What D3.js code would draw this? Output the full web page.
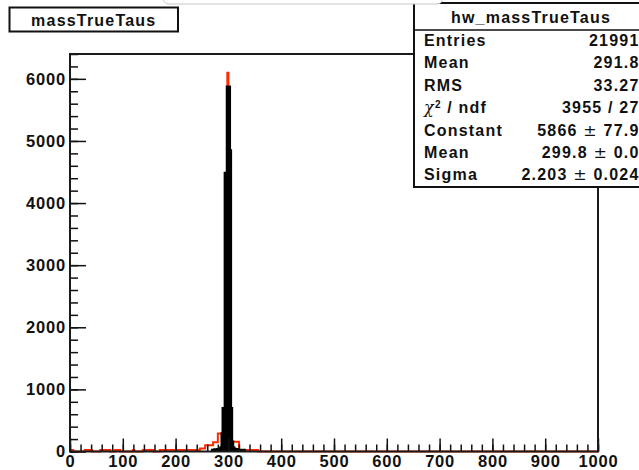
<!DOCTYPE html>
<html>
<head>
<meta charset="utf-8">
<script src="https://cdn.jsdelivr.net/npm/d3@7"></script>
<style>
  html, body { margin: 0; padding: 0; background: #fff; }
  svg { display: block; }
  text { font-family: "Liberation Sans", Arial, Helvetica, sans-serif; font-weight: bold; fill: #111; }
</style>
</head>
<body>
<script>
// ---- histogram contents ----
// red histogram: variable-width bins (edges) and their contents
const redEdges  = [0, 6, 28, 42, 57, 76, 85, 95, 119, 122, 138, 158, 170, 246, 256, 271, 280, 288,
                   290, 292, 294, 296, 298, 300, 302, 304, 306, 320, 356, 1000];
const redCounts = [25, 0, 25, 0, 25, 0, 25, 0, 25, 0, 25, 0, 25, 50, 100, 150, 290,
                   300, 700, 700, 4200, 4400, 6100, 5600, 4600, 600, 155, 25, 0];

// black histogram: 2-unit bins from 270 to 330
const blackStart = 270;
const blackBinWidth = 2;
const blackCounts = [20, 20, 25, 20, 25, 30, 30, 40, 60, 280,
                     690, 690, 4480, 4480, 5866, 5866, 4840, 690, 150, 60,
                     40, 30, 30, 25, 20, 20, 20, 20, 20, 20];

// axes
const xDomain = [0, 1000];
const yDomain = [0, 6400];
const xTickValues = [0, 100, 200, 300, 400, 500, 600, 700, 800, 900, 1000];
const yTickValues = [0, 1000, 2000, 3000, 4000, 5000, 6000];
const xMinorStep = 20;
const yMinorStep = 200;

// titles and statistics box
const histTitle = "massTrueTaus";
const statsTitle = "hw_massTrueTaus";
const statsLabels = ["Entries", "Mean", "RMS", "χ^2 / ndf", "Constant", "Mean", "Sigma"];
const statsValues = ["21991", "291.8", "33.27", "3955 / 27", "5866 ± 77.9", "299.8 ± 0.0", "2.203 ± 0.024"];

// ---- drawing ----
const W = 639, H = 470;
const frame = { left: 70, right: 598, top: 54, bottom: 451.5 };

const svg = d3.select("body").append("svg").attr("width", W).attr("height", H);

const x = d3.scaleLinear().domain(xDomain).range([frame.left, frame.right]);
const y = d3.scaleLinear().domain(yDomain).range([frame.bottom, frame.top]);

svg.append("defs").append("clipPath").attr("id", "frameClip")
  .append("rect")
  .attr("x", frame.left).attr("y", frame.top - 2)
  .attr("width", frame.right - frame.left).attr("height", frame.bottom - frame.top + 4);

// step outline of a histogram, starting and ending on the baseline
function histPoints(edges, counts) {
  const pts = [[edges[0], 0]];
  counts.forEach((c, i) => {
    pts.push([edges[i], c]);
    pts.push([edges[i + 1], c]);
  });
  pts.push([edges[edges.length - 1], 0]);
  return pts;
}
const histLine = d3.line().x(d => x(d[0])).y(d => y(d[1]));

const blackEdges = d3.range(blackCounts.length + 1).map(i => blackStart + i * blackBinWidth);

const plot = svg.append("g").attr("clip-path", "url(#frameClip)");
plot.append("path")
  .attr("d", histLine(histPoints(redEdges, redCounts)))
  .attr("fill", "none").attr("stroke", "#ff2a00").attr("stroke-width", 2)
  .attr("stroke-linejoin", "miter");
plot.append("path")
  .attr("d", histLine(histPoints(blackEdges, blackCounts)))
  .attr("fill", "#000").attr("stroke", "#000").attr("stroke-width", 3.2)
  .attr("stroke-linejoin", "miter");

// axes: major ticks with labels, minor ticks without, all pointing into the frame
const tickFont = { size: "16.5px", spacing: "0.8px" };

const yMajor = svg.append("g").attr("transform", `translate(${frame.left},0)`)
  .call(d3.axisLeft(y).tickValues(yTickValues).tickSize(-16).tickPadding(4).tickFormat(d3.format("d")));
const yMinor = svg.append("g").attr("transform", `translate(${frame.left},0)`)
  .call(d3.axisLeft(y).tickValues(d3.range(0, yDomain[1] + 1, yMinorStep)).tickSize(-8).tickFormat(""));

const xMajor = svg.append("g").attr("transform", `translate(0,${frame.bottom})`)
  .call(d3.axisBottom(x).tickValues(xTickValues).tickSize(-13).tickPadding(3.5).tickFormat(d3.format("d")));
const xMinor = svg.append("g").attr("transform", `translate(0,${frame.bottom})`)
  .call(d3.axisBottom(x).tickValues(d3.range(0, xDomain[1] + 1, xMinorStep)).tickSize(-7).tickFormat(""));

[yMajor, yMinor, xMajor, xMinor].forEach(g => {
  g.select(".domain").remove();
  g.selectAll("line").attr("stroke", "#111").attr("stroke-width", 1.5);
  g.selectAll("text")
    .attr("fill", "#111")
    .style("font-family", '"Liberation Sans", Arial, sans-serif')
    .style("font-weight", "bold")
    .style("font-size", tickFont.size)
    .style("letter-spacing", tickFont.spacing);
});

// frame
svg.append("rect")
  .attr("x", frame.left).attr("y", frame.top)
  .attr("width", frame.right - frame.left).attr("height", frame.bottom - frame.top)
  .attr("fill", "none").attr("stroke", "#1a1a1a").attr("stroke-width", 2);

// histogram title box
const titleBox = { x: 9.5, y: 7.5, w: 168.5, h: 24 };
svg.append("rect")
  .attr("x", titleBox.x).attr("y", titleBox.y).attr("width", titleBox.w).attr("height", titleBox.h)
  .attr("fill", "#fff").attr("stroke", "#111").attr("stroke-width", 2);
svg.append("text")
  .attr("x", titleBox.x + titleBox.w / 2).attr("y", 26)
  .attr("text-anchor", "middle")
  .style("font-size", "16px").style("letter-spacing", "1.2px")
  .text(histTitle);

// statistics box
const stats = { x: 414, y: 3, w: 240, h: 184, header: 30 };
svg.append("rect")
  .attr("x", stats.x).attr("y", stats.y).attr("width", stats.w).attr("height", stats.h)
  .attr("fill", "#fff").attr("stroke", "#111").attr("stroke-width", 2);
svg.append("line")
  .attr("x1", stats.x).attr("x2", stats.x + stats.w)
  .attr("y1", stats.header).attr("y2", stats.header)
  .attr("stroke", "#111").attr("stroke-width", 1.5);
svg.append("text")
  .attr("x", 531).attr("y", 23)
  .attr("text-anchor", "middle")
  .style("font-size", "16px").style("letter-spacing", "1.2px")
  .text(statsTitle);

// writes a label, rendering "^2" as a superscript and "±" in a light face
function richText(sel, str) {
  const parts = str.split(/(\^2|±|χ)/).filter(s => s.length);
  parts.forEach(p => {
    if (p === "^2") {
      sel.append("tspan").attr("baseline-shift", "super").style("font-size", "10px").text("2");
    } else if (p === "±") {
      sel.append("tspan").style("font-weight", "normal").style("font-family", '"DejaVu Sans", sans-serif').text("±");
    } else if (p === "χ") {
      sel.append("tspan").style("font-weight", "normal").style("font-family", '"DejaVu Serif", serif').style("font-style", "italic").text("χ");
    } else {
      sel.append("tspan").text(p);
    }
  });
}

const rowBase = 46, rowStep = 22.4;
statsLabels.forEach((lab, i) => {
  const t = svg.append("text")
    .attr("x", 424).attr("y", rowBase + i * rowStep)
    .style("font-size", "16px").style("letter-spacing", "1.2px");
  richText(t, lab);
});
statsValues.forEach((val, i) => {
  const t = svg.append("text")
    .attr("x", 639.5).attr("y", rowBase + i * rowStep)
    .attr("text-anchor", "end")
    .style("font-size", "16px").style("letter-spacing", "1.2px");
  richText(t, val);
});

// window edge overlapping the top of the canvas
svg.append("rect")
  .attr("x", 163).attr("y", -14).attr("width", 280).attr("height", 18).attr("rx", 6)
  .attr("fill", "#fff").attr("stroke", "#c8c8c8").attr("stroke-width", 1);
</script>
</body>
</html>
